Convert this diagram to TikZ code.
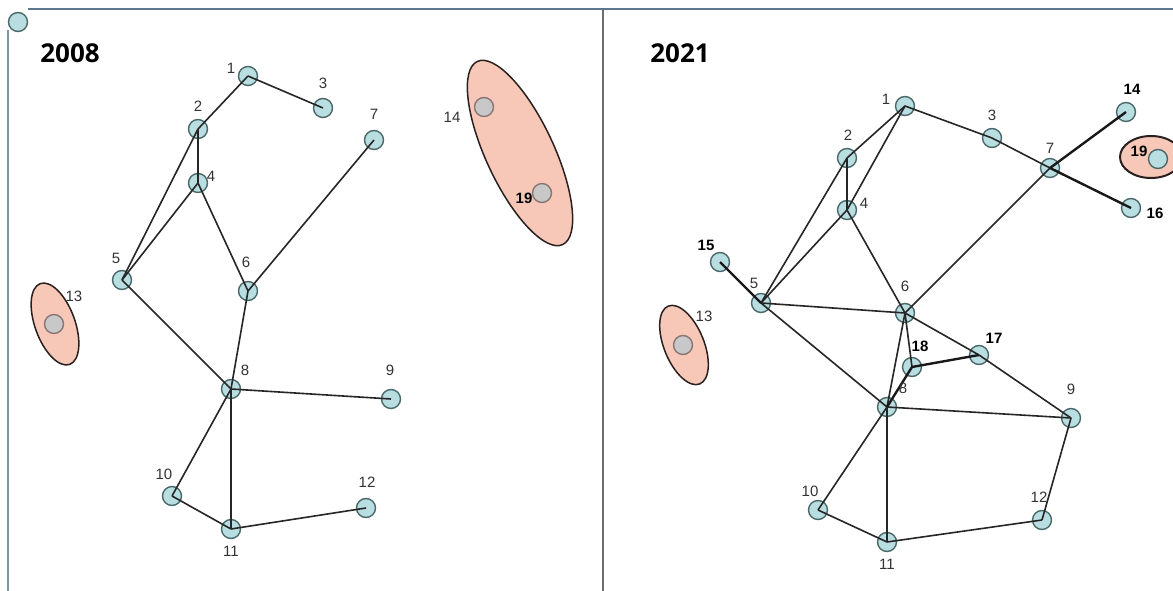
\documentclass[tikz,border=0pt]{standalone}
\usepackage{fontspec}
\setmainfont{Liberation Sans}
\newfontfamily\titlefont{Open Sans}
\usetikzlibrary{shapes.geometric}
\definecolor{nodefill}{HTML}{B9DEE2}
\definecolor{nodeline}{HTML}{4A6868}
\definecolor{grayfill}{HTML}{C8C8C8}
\definecolor{grayline}{HTML}{8A7575}
\definecolor{clfill}{HTML}{F7C8B8}
\definecolor{clline}{HTML}{2A2020}
\definecolor{labcol}{HTML}{333333}
\definecolor{topline}{HTML}{5C7890}
\definecolor{divline}{HTML}{6E6E6E}
\begin{document}
\begin{tikzpicture}[x=1pt,y=-1pt,
  vtx/.style={circle,draw=nodeline,fill=nodefill,line width=1.4pt,minimum size=19pt,inner sep=0pt},
  gvtx/.style={circle,draw=grayline,fill=grayfill,line width=1.4pt,minimum size=19pt,inner sep=0pt},
  cluster/.style={ellipse,draw=clline,fill=clfill,line width=1.5pt,inner sep=0pt},
  lab/.style={text=labcol,font=\fontsize{15}{17}\selectfont,inner sep=0pt},
  blab/.style={text=black,font=\fontsize{15}{17}\selectfont\bfseries,inner sep=0pt},
  ttl/.style={font=\titlefont\fontsize{26}{30}\selectfont\bfseries,inner sep=0pt},
  edge/.style={line width=1.6pt,black!85},
  tedge/.style={line width=2.4pt,black!90}]
\useasboundingbox (0,0) rectangle (1173,591);
\fill[white] (0,0) rectangle (1173,591);
% frame
\draw[topline,line width=1.5pt] (28,9) -- (1173,9);
\draw[topline!80,line width=1.3pt] (8,30) -- (8,591);
\draw[divline,line width=2pt] (603,9) -- (603,591);
\node[vtx] (corner) at (18,22) {};
% titles
\node[ttl] (t1) at (70,53) {2008};
\node[ttl] (t2) at (680,53) {2021};

% ---------------- left panel (2008)
\node[cluster,minimum width=202pt,minimum height=68pt,rotate=-65] (ca) at (520,153) {};
\node[cluster,minimum width=86pt,minimum height=40pt,rotate=-70] (cb) at (55,324) {};
\node[vtx] (a1) at (248,76) {};
\node[vtx] (a2) at (198,129) {};
\node[vtx] (a3) at (323,108) {};
\node[vtx] (a4) at (198,183) {};
\node[vtx] (a5) at (122,280) {};
\node[vtx] (a6) at (248,291) {};
\node[vtx] (a7) at (374,140) {};
\node[vtx] (a8) at (231,389) {};
\node[vtx] (a9) at (391,399) {};
\node[vtx] (a10) at (172,496) {};
\node[vtx] (a11) at (231,529) {};
\node[vtx] (a12) at (366,508) {};
\node[gvtx] (a13) at (54,324) {};
\node[gvtx] (a14) at (484,107) {};
\node[gvtx] (a19) at (542,193) {};
\foreach \u/\v in {1/2,1/3,2/4,2/5,4/5,4/6,7/6,5/8,6/8,8/9,8/10,8/11,10/11,11/12}
  \draw[edge] (a\u.center) -- (a\v.center);
\node[lab] (la1) at (231,68) {1};
\node[lab] (la2) at (198,106) {2};
\node[lab] (la3) at (323,83) {3};
\node[lab] (la4) at (211,176) {4};
\node[lab] (la5) at (116,258) {5};
\node[lab] (la6) at (246,262) {6};
\node[lab] (la7) at (374,114) {7};
\node[lab] (la8) at (245,370) {8};
\node[lab] (la9) at (390,370) {9};
\node[lab] (la10) at (164,474) {10};
\node[lab] (la11) at (231,551) {11};
\node[lab] (la12) at (367,482) {12};
\node[lab] (la13) at (74,296) {13};
\node[lab] (la14) at (452,117) {14};
\node[blab] (la19) at (524,198) {19};

% ---------------- right panel (2021)
\node[cluster,minimum width=84pt,minimum height=40pt,rotate=-68] (cc) at (684,345) {};
\node[cluster,minimum width=62pt,minimum height=42pt,line width=2pt] (cd) at (1151,157) {};
\node[vtx] (b1) at (905,106) {};
\node[vtx] (b2) at (847,158) {};
\node[vtx] (b3) at (992,138) {};
\node[vtx] (b4) at (847,210) {};
\node[vtx] (b5) at (761,303) {};
\node[vtx] (b6) at (905,313) {};
\node[vtx] (b7) at (1050,168) {};
\node[vtx] (b8) at (887,407) {};
\node[vtx] (b9) at (1071,418) {};
\node[vtx] (b10) at (818,510) {};
\node[vtx] (b11) at (887,542) {};
\node[vtx] (b12) at (1042,520) {};
\node[gvtx] (b13) at (683,345) {};
\node[vtx] (b14) at (1126,112) {};
\node[vtx] (b15) at (720,262) {};
\node[vtx] (b16) at (1131,208) {};
\node[vtx] (b17) at (979,355) {};
\node[vtx] (b18) at (912,367) {};
\node[vtx] (b19) at (1158,159) {};
\foreach \u/\v in {1/2,1/4,1/3,3/7,7/6,2/4,2/5,4/5,4/6,5/6,5/8,6/8,6/18,6/17,17/9,8/9,8/10,8/11,10/11,11/12,9/12}
  \draw[edge] (b\u.center) -- (b\v.center);
\foreach \u/\v in {7/14,7/16,5/15,18/17,8/18}
  \draw[tedge] (b\u.center) -- (b\v.center);
\node[lab] (lb1) at (886,99) {1};
\node[lab] (lb2) at (848,135) {2};
\node[lab] (lb3) at (992,115) {3};
\node[lab] (lb4) at (864,203) {4};
\node[lab] (lb5) at (754,283) {5};
\node[lab] (lb6) at (905,286) {6};
\node[lab] (lb7) at (1050,148) {7};
\node[lab] (lb8) at (903,388) {8};
\node[lab] (lb9) at (1071,389) {9};
\node[lab] (lb10) at (810,491) {10};
\node[lab] (lb11) at (887,564) {11};
\node[lab] (lb12) at (1039,497) {12};
\node[lab] (lb13) at (704,316) {13};
\node[blab] (lb14) at (1132,89) {14};
\node[blab] (lb15) at (706,245) {15};
\node[blab] (lb16) at (1155,213) {16};
\node[blab] (lb17) at (994,338) {17};
\node[blab] (lb18) at (920,346) {18};
\node[blab] (lb19) at (1139,151) {19};
\end{tikzpicture}
\end{document}
